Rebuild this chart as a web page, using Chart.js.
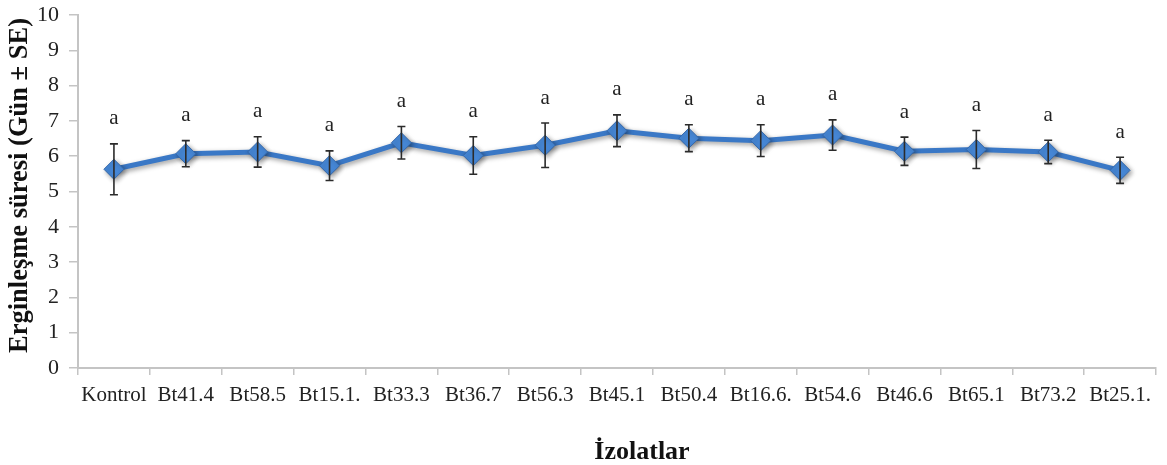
<!DOCTYPE html>
<html>
<head>
<meta charset="utf-8">
<script src="https://cdn.jsdelivr.net/npm/chart.js@4"></script>
<style>
  html, body { margin: 0; padding: 0; background: #fff; }
  #wrap { width: 1167px; height: 465px; }
</style>
</head>
<body>
<div id="wrap"><canvas id="devChart"></canvas></div>
<script>
// isolates on the x axis
const isolates = ['Kontrol', 'Bt41.4', 'Bt58.5', 'Bt15.1.', 'Bt33.3', 'Bt36.7', 'Bt56.3', 'Bt45.1',
                  'Bt50.4', 'Bt16.6.', 'Bt54.6', 'Bt46.6', 'Bt65.1', 'Bt73.2', 'Bt25.1.'];
// mean development time (days) and standard error
const meanDays = [5.63, 6.07, 6.12, 5.73, 6.38, 6.02, 6.31, 6.72, 6.51, 6.44, 6.60, 6.14, 6.19, 6.12, 5.60];
const seDays   = [0.72, 0.37, 0.43, 0.42, 0.46, 0.53, 0.63, 0.45, 0.38, 0.45, 0.43, 0.40, 0.54, 0.33, 0.37];
// significance letters
const groupLetters = ['a', 'a', 'a', 'a', 'a', 'a', 'a', 'a', 'a', 'a', 'a', 'a', 'a', 'a', 'a'];
const yTicks = [0, 1, 2, 3, 4, 5, 6, 7, 8, 9, 10];
const yTitle = 'Erginleşme süresi (Gün ± SE)';
const xTitle = 'İzolatlar';

const serif = "'Liberation Serif', 'Times New Roman', serif";

// drop shadow under the line like the office chart
const shadowPlugin = {
    id: 'shadow',
    beforeDatasetsDraw(chart) {
        const ctx = chart.ctx;
        ctx.save();
        ctx.shadowColor = 'rgba(0,0,0,0.4)';
        ctx.shadowBlur = 5;
        ctx.shadowOffsetX = 2;
        ctx.shadowOffsetY = 2;
    },
    afterDatasetsDraw(chart) {
        chart.ctx.restore();
    }
};

// error bars + letters
const errorBarPlugin = {
    id: 'errorBars',
    afterDatasetsDraw(chart) {
        const ctx = chart.ctx;
        const x = chart.scales.x, y = chart.scales.y;
        ctx.save();
        ctx.strokeStyle = '#2b2b2b';
        ctx.lineWidth = 1.6;
        meanDays.forEach((m, i) => {
            const px = x.getPixelForValue(i);
            const top = y.getPixelForValue(m + seDays[i]);
            const bot = y.getPixelForValue(m - seDays[i]);
            ctx.beginPath();
            ctx.moveTo(px, top); ctx.lineTo(px, bot);
            ctx.moveTo(px - 4, top); ctx.lineTo(px + 4, top);
            ctx.moveTo(px - 4, bot); ctx.lineTo(px + 4, bot);
            ctx.stroke();
        });
        ctx.fillStyle = '#222';
        ctx.font = '21px ' + serif;
        ctx.textAlign = 'center';
        ctx.textBaseline = 'middle';
        meanDays.forEach((m, i) => {
            const px = x.getPixelForValue(i);
            const top = y.getPixelForValue(m + seDays[i]);
            ctx.fillText(groupLetters[i], px, top - 25);
        });
        ctx.restore();
    }
};

// axis titles
const titlesPlugin = {
    id: 'axisTitles',
    afterDraw(chart) {
        const ctx = chart.ctx;
        const area = chart.chartArea;
        ctx.save();
        ctx.fillStyle = '#111';
        ctx.textAlign = 'center';
        ctx.textBaseline = 'middle';
        ctx.font = 'bold 26px ' + serif;
        ctx.fillText(xTitle, (area.left + area.right) / 2 + 25, 452);
        ctx.translate(20, (area.top + area.bottom) / 2 - 6);
        ctx.rotate(-Math.PI / 2);
        ctx.font = 'bold 26.5px ' + serif;
        ctx.fillText(yTitle, 0, 0);
        ctx.restore();
    }
};

const ctx = document.getElementById('devChart').getContext('2d');
new Chart(ctx, {
    type: 'line',
    data: {
        labels: isolates,
        datasets: [{
            data: meanDays,
            borderColor: '#3a78c6',
            borderWidth: 5,
            pointStyle: 'rectRot',
            pointRadius: 10,
            pointBackgroundColor: '#4687d6',
            pointBorderColor: '#3568aa',
            pointBorderWidth: 1,
            tension: 0,
            fill: false
        }]
    },
    options: {
        responsive: true,
        maintainAspectRatio: false,
        animation: false,
        layout: { padding: { top: 15, right: 8, bottom: 0, left: 0 } },
        plugins: {
            legend: { display: false },
            tooltip: { enabled: false }
        },
        scales: {
            x: {
                offset: true,
                grid: { display: true, drawOnChartArea: false, drawTicks: true, offset: true, tickLength: 7, color: '#c4c4c4', lineWidth: 1.5 },
                border: { display: true, color: '#c4c4c4', width: 2 },
                ticks: { color: '#222', font: { family: serif, size: 21 }, padding: 8, maxRotation: 0, autoSkip: false },
                afterFit(scale) { scale.height = 97; }
            },
            y: {
                min: 0,
                max: 10,
                afterBuildTicks(scale) { scale.ticks = yTicks.map(v => ({ value: v })); },
                grid: { display: true, drawOnChartArea: false, drawTicks: true, tickLength: 9, color: '#c4c4c4', lineWidth: 1.5 },
                border: { display: true, color: '#c4c4c4', width: 2 },
                ticks: { color: '#222', font: { family: serif, size: 22 }, padding: 10 },
                afterFit(scale) { scale.width = 78; scale.paddingTop = 0; }
            }
        }
    },
    plugins: [shadowPlugin, errorBarPlugin, titlesPlugin]
});
</script>
</body>
</html>
